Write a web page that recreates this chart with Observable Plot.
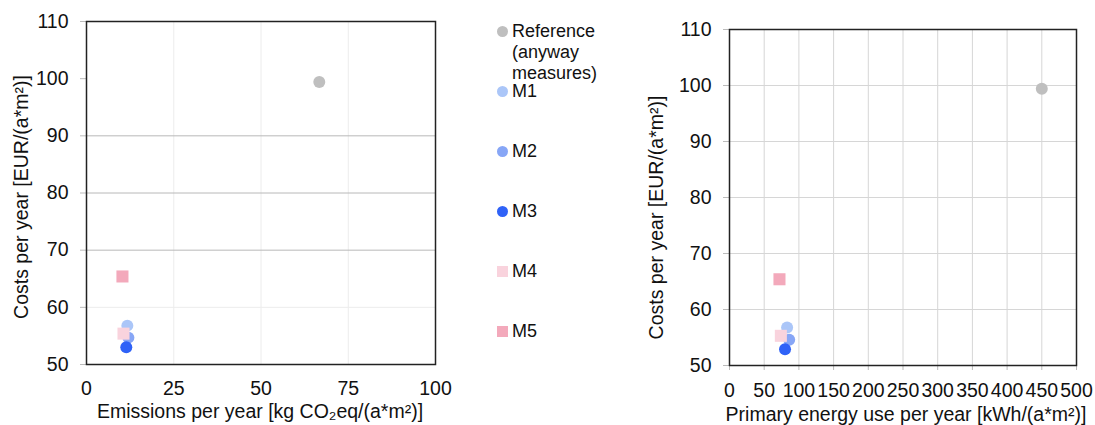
<!DOCTYPE html>
<html>
<head>
<meta charset="utf-8">
<script src="https://cdn.jsdelivr.net/npm/d3@7"></script>
<script src="https://cdn.jsdelivr.net/npm/@observablehq/plot@0.6"></script>
<style>
  html, body { margin: 0; padding: 0; background: #fff; }
  body { width: 1095px; height: 425px; position: relative; overflow: hidden; font-family: "Liberation Sans", Arial, sans-serif; }
  #left { position: absolute; left: 0; top: 0; }
  #right { position: absolute; left: 640px; top: 0; }
  #legend { position: absolute; left: 497px; top: 0; font-size: 18px; color: #111; }
  .item { position: absolute; left: 0; white-space: nowrap; line-height: 21px; }
  .sw { position: absolute; left: 0; top: 5px; width: 11px; height: 11px; }
  .lbl { position: absolute; left: 15px; top: 0; }
</style>
</head>
<body>
<div id="left"></div>
<div id="legend"></div>
<div id="right"></div>
<script>
// ---- data ----
const series = ["Reference (anyway measures)", "M1", "M2", "M3", "M4", "M5"];
const seriesColors = ["#bfbfbf", "#abc6f8", "#87a6f6", "#2f62f7", "#f9d3dd", "#f3a9bb"];
const seriesSymbols = ["circle", "circle", "circle", "circle", "square", "square"];
const costs = [99.4, 56.8, 54.7, 53.0, 55.4, 65.4];
const emissions = [66.7, 11.7, 12.0, 11.4, 10.6, 10.3];
const primaryEnergy = [450, 83, 86, 80, 74, 72];
const costsCosts = [99.4, 56.8, 54.6, 52.9, 55.3, 65.4];

const yTicks = [50, 60, 70, 80, 90, 100, 110];
const xTicksLeft = [0, 25, 50, 75, 100];
const xTicksRight = [0, 50, 100, 150, 200, 250, 300, 350, 400, 450, 500];
const leftGridStrong = [70, 80, 90];
const leftGridFaint = [60];

const yLabel = "Costs per year [EUR/(a*m²)]";
const xLabelLeft = "Emissions per year [kg CO₂eq/(a*m²)]";
const xLabelRight = "Primary energy use per year [kWh/(a*m²)]";

const leftData = series.map((s, i) => ({s, x: emissions[i], y: costs[i], c: seriesColors[i], sym: seriesSymbols[i]}));
const rightData = series.map((s, i) => ({s, x: primaryEnergy[i], y: costsCosts[i], c: seriesColors[i], sym: seriesSymbols[i]}));

const FS = 19.5;
const font = {fontFamily: "Liberation Sans, Arial, sans-serif", fontSize: "19.5px", color: "#111", background: "#fff"};

function dots(data) {
  const circ = data.filter(d => d.sym === "circle");
  const sq = data.filter(d => d.sym === "square");
  return [
    Plot.dot(circ, {x: "x", y: "y", fill: "c", r: 6, stroke: null}),
    Plot.dot(sq, {x: "x", y: "y", fill: "c", r: 6.8, symbol: "square", stroke: null})
  ];
}

const left = Plot.plot({
  width: 460, height: 425,
  marginLeft: 86, marginRight: 25, marginTop: 21, marginBottom: 61,
  style: font,
  x: {domain: [0, 100], ticks: xTicksLeft},
  y: {domain: [50, 110], ticks: yTicks},
  marks: [
    Plot.ruleX(xTicksLeft, {stroke: "#ececec", strokeWidth: 1}),
    Plot.ruleY(leftGridFaint, {stroke: "#ececec", strokeWidth: 1}),
    Plot.ruleY(leftGridStrong, {stroke: "#b8b8b8", strokeWidth: 1}),
    Plot.axisY({ticks: yTicks, tickSize: 6, tickPadding: 12, stroke: "#bbb", label: null, fontSize: FS, fill: "#111"}),
    Plot.axisX({ticks: xTicksLeft, tickSize: 0, tickPadding: 17, label: null, fontSize: FS, fill: "#111"}),
    Plot.frame({stroke: "#222", strokeWidth: 1.5}),
    ...dots(leftData),
    Plot.text([yLabel], {frameAnchor: "left", textAnchor: "middle", rotate: -90, dx: -65, dy: 4, fontSize: FS, fill: "#111"}),
    Plot.text([xLabelLeft], {frameAnchor: "bottom", textAnchor: "middle", dy: 53, dx: -1, fontSize: FS, fill: "#111"})
  ]
});
document.getElementById("left").appendChild(left);

const right = Plot.plot({
  width: 455, height: 425,
  marginLeft: 89, marginRight: 19, marginTop: 29, marginBottom: 60,
  style: font,
  x: {domain: [0, 500], ticks: xTicksRight},
  y: {domain: [50, 110], ticks: yTicks},
  marks: [
    Plot.ruleX(xTicksRight, {stroke: "#d6d6d6", strokeWidth: 1}),
    Plot.ruleY(yTicks, {stroke: "#d6d6d6", strokeWidth: 1}),
    Plot.axisY({ticks: yTicks, tickSize: 6, tickPadding: 12, stroke: "#bbb", label: null, fontSize: FS, fill: "#111"}),
    Plot.axisX({ticks: xTicksRight, tickSize: 5, tickPadding: 13, stroke: "#bbb", label: null, fontSize: FS, fill: "#111"}),
    Plot.frame({stroke: "#222", strokeWidth: 1.5}),
    ...dots(rightData),
    Plot.text([yLabel], {frameAnchor: "left", textAnchor: "middle", rotate: -90, dx: -73, dy: 20, fontSize: FS, fill: "#111"}),
    Plot.text([xLabelRight], {frameAnchor: "bottom", textAnchor: "middle", dy: 55, dx: 3, fontSize: FS, fill: "#111"})
  ]
});
document.getElementById("right").appendChild(right);

// ---- legend ----
const legendTops = [21, 81, 141, 201, 261, 321];
const legendLines = [["Reference", "(anyway", "measures)"], ["M1"], ["M2"], ["M3"], ["M4"], ["M5"]];
const legend = document.getElementById("legend");
series.forEach((s, i) => {
  const item = document.createElement("div");
  item.className = "item";
  item.style.top = legendTops[i] + "px";
  const sw = document.createElement("div");
  sw.className = "sw";
  sw.style.background = seriesColors[i];
  if (seriesSymbols[i] === "circle") sw.style.borderRadius = "50%";
  const lbl = document.createElement("div");
  lbl.className = "lbl";
  lbl.innerHTML = legendLines[i].join("<br>");
  item.appendChild(sw);
  item.appendChild(lbl);
  legend.appendChild(item);
});
</script>
</body>
</html>
